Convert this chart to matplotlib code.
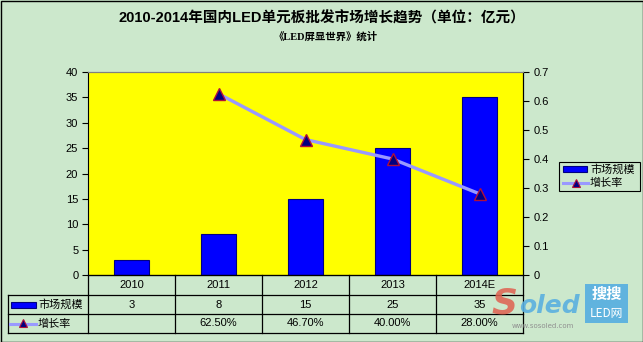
import matplotlib
matplotlib.use("Agg")
import matplotlib.pyplot as plt
from matplotlib.patches import Rectangle

plt.rcParams['font.family'] = ['Liberation Sans', 'Noto Sans CJK SC', 'DejaVu Sans']

# ---- data ----
years = ["2010", "2011", "2012", "2013", "2014E"]
market_size = [3, 8, 15, 25, 35]            # 亿元
growth_rate = [None, 0.625, 0.467, 0.40, 0.28]
growth_labels = ["", "62.50%", "46.70%", "40.00%", "28.00%"]
series_names = ["市场规模", "增长率"]
title = "2010-2014年国内LED单元板批发市场增长趋势（单位：亿元）"
subtitle = "《LED屏显世界》统计"

W, H = 643, 342
BG = "#CCE8CC"
BAR = "#0000FF"
BAR_EDGE = "#000080"
LINE = "#9999FF"
MK_FACE = "#000080"
MK_EDGE = "#B0103A"

fig = plt.figure(figsize=(W / 100, H / 100), dpi=100, facecolor=BG)


def fx(px):
    return px / W


def fy(py):
    return 1 - py / H


# plot area in pixel coordinates
L, R, T, B = 88, 523, 72, 275
ax = fig.add_axes([fx(L), fy(B), fx(R) - fx(L), fy(T) - fy(B)])
ax.set_facecolor("#FFFF00")
x = list(range(len(years)))
ax.bar(x, market_size, width=0.4, color=BAR, edgecolor=BAR_EDGE, linewidth=0.8, zorder=2)
ax.set_xlim(-0.5, len(years) - 0.5)
ax.set_ylim(0, 40)
ax.set_yticks(range(0, 41, 5))
ax.set_xticks([])
ax.tick_params(axis='y', direction='out', length=4, width=0.8, labelsize=8, colors='black', pad=3)
ax.spines['top'].set_color('#808080')
ax.spines['left'].set_color('black')
ax.spines['bottom'].set_color('black')

ax2 = ax.twinx()
gx = [i for i, g in enumerate(growth_rate) if g is not None]
gy = [g for g in growth_rate if g is not None]
ax2.plot(gx, gy, color=LINE, linewidth=2.4, zorder=3)
ax2.plot(gx, gy, linestyle='none', marker='^', markersize=8,
         markerfacecolor=MK_FACE, markeredgecolor=MK_EDGE, markeredgewidth=1.0, zorder=4)
ax2.set_ylim(0, 0.7)
ax2.set_yticks([i / 10 for i in range(0, 8)])
ax2.set_yticklabels(["0"] + [f"{i/10:.1f}" for i in range(1, 8)])
ax2.tick_params(axis='y', direction='out', length=4, width=0.8, labelsize=8, pad=4)
ax2.spines['top'].set_color('#808080')
ax2.spines['right'].set_color('black')
ax2.spines['left'].set_visible(False)
ax2.spines['bottom'].set_visible(False)

# ---- titles ----
fig.text(fx(322), fy(18), title, ha='center', va='center', fontsize=10.5,
         fontweight='bold', family=['Liberation Sans', 'Noto Sans CJK SC'])
fig.text(fx(326), fy(37), subtitle, ha='center', va='center', fontsize=7.5,
         fontweight='bold', family=['Liberation Serif', 'Noto Sans CJK SC'])

# ---- data table under the plot ----
tab = fig.add_axes([0, 0, 1, 1], facecolor='none')
tab.set_xlim(0, W)
tab.set_ylim(H, 0)
tab.axis('off')

rows_y = [275, 295, 314, 333]
cols_x = [L + i * (R - L) / len(years) for i in range(len(years) + 1)]
label_left = 8
lw = 0.9
tab.plot([L, R], [rows_y[0], rows_y[0]], color='black', lw=lw)
for yv in rows_y[1:]:
    tab.plot([label_left, R], [yv, yv], color='black', lw=lw)
for xv in cols_x:
    tab.plot([xv, xv], [rows_y[0], rows_y[-1]], color='black', lw=lw)
tab.plot([label_left, label_left], [rows_y[1], rows_y[-1]], color='black', lw=lw)

for i in range(len(years)):
    cx = (cols_x[i] + cols_x[i + 1]) / 2
    tab.text(cx, (rows_y[0] + rows_y[1]) / 2, years[i], ha='center', va='center', fontsize=8)
    tab.text(cx, (rows_y[1] + rows_y[2]) / 2, str(market_size[i]), ha='center', va='center', fontsize=8)
    tab.text(cx, (rows_y[2] + rows_y[3]) / 2, growth_labels[i], ha='center', va='center', fontsize=8)

# legend keys in the row headers
r1 = (rows_y[1] + rows_y[2]) / 2
r2 = (rows_y[2] + rows_y[3]) / 2
tab.add_patch(Rectangle((11, r1 - 3), 25, 6, facecolor=BAR, edgecolor=BAR_EDGE, lw=0.8))
tab.text(38, r1, series_names[0], ha='left', va='center', fontsize=8, family=['Noto Sans CJK SC'])
tab.plot([10, 36], [r2, r2], color=LINE, lw=2.2)
tab.plot([23], [r2 - 0.5], marker='^', markersize=6, markerfacecolor=MK_FACE,
         markeredgecolor=MK_EDGE, markeredgewidth=0.8, linestyle='none')
tab.text(38, r2, series_names[1], ha='left', va='center', fontsize=8, family=['Noto Sans CJK SC'])

# ---- legend box on the right ----
tab.add_patch(Rectangle((559, 162), 81, 29, facecolor=BG, edgecolor='black', lw=0.8))
ly1, ly2 = 169, 183
tab.add_patch(Rectangle((563, ly1 - 3), 24, 6, facecolor=BAR, edgecolor=BAR_EDGE, lw=0.8))
tab.text(590, ly1, series_names[0], ha='left', va='center', fontsize=8, family=['Noto Sans CJK SC'])
tab.plot([563, 588], [ly2, ly2], color=LINE, lw=2.2)
tab.plot([576], [ly2 - 0.5], marker='^', markersize=6, markerfacecolor=MK_FACE,
         markeredgecolor=MK_EDGE, markeredgewidth=0.8, linestyle='none')
tab.text(590, ly2, series_names[1], ha='left', va='center', fontsize=8, family=['Noto Sans CJK SC'])

# ---- site mark ----
tab.text(517, 303, "S", ha='right', va='center', fontsize=26, fontstyle='italic',
         fontweight='bold', color='#E06050', alpha=0.85, family=['DejaVu Sans'])
tab.text(519, 306, "oled", ha='left', va='center', fontsize=18, fontstyle='italic',
         fontweight='bold', color='#5AB0E0', alpha=0.9, family=['DejaVu Sans'])
tab.text(543, 326, "www.sosoled.com", ha='center', va='center', fontsize=5,
         color='#909090', family=['DejaVu Sans'])
tab.add_patch(Rectangle((585, 284), 43, 39, facecolor='#5AB0E0', edgecolor='none', alpha=0.95))
tab.text(606.5, 294, "搜搜", ha='center', va='center', fontsize=11, color='white',
         fontweight='bold', family=['Noto Sans CJK SC'])
tab.text(606.5, 314, "LED网", ha='center', va='center', fontsize=8.5, color='white',
         family=['Noto Sans CJK SC'])

# outer frame
tab.add_patch(Rectangle((0.5, 0.5), W - 1, H - 1, facecolor='none', edgecolor='black', lw=1))

fig.savefig("out.png", dpi=100, facecolor=BG)
